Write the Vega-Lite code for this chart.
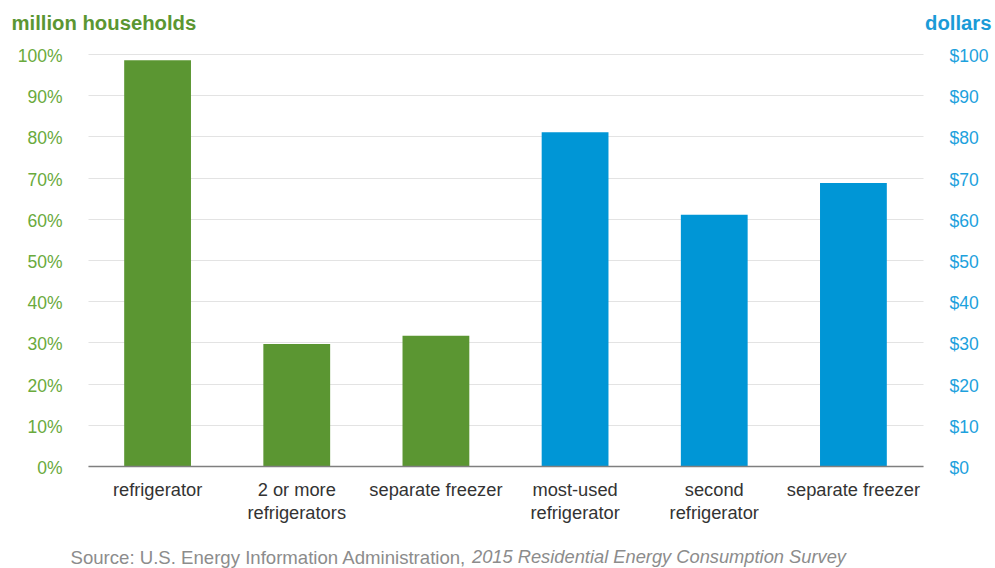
{
  "$schema": "https://vega.github.io/schema/vega-lite/v6.json",
  "width": 835,
  "height": 412,
  "autosize": {"type": "none"},
  "padding": {"left": 88, "top": 54, "right": 72, "bottom": 102},
  "config": {"view": {"stroke": null}, "font": "Liberation Sans"},
  "title": {
    "text": "2015 Residential Energy Consumption Survey",
    "orient": "none",
    "anchor": "start",
    "dx": 384,
    "dy": 509,
    "baseline": "alphabetic",
    "fontStyle": "italic",
    "fontWeight": "normal",
    "fontSize": 18.3,
    "color": "#8c8c8c"
  },
  "data": {
    "values": [
      {"category": "refrigerator", "group": "households", "value": 98.5},
      {"category": "2 or more|refrigerators", "group": "households", "value": 29.6},
      {"category": "separate freezer", "group": "households", "value": 31.6},
      {"category": "most-used|refrigerator", "group": "dollars", "value": 81},
      {"category": "second|refrigerator", "group": "dollars", "value": 61},
      {"category": "separate freezer ", "group": "dollars", "value": 68.7}
    ]
  },
  "encoding": {
    "x": {
      "field": "category",
      "type": "nominal",
      "sort": ["refrigerator", "2 or more|refrigerators", "separate freezer", "most-used|refrigerator", "second|refrigerator", "separate freezer "],
      "scale": {"paddingInner": 0.52, "paddingOuter": 0.26},
      "axis": {
        "labelAngle": 0,
        "labelExpr": "split(datum.label, '|')",
        "labelFontSize": 18.3,
        "labelColor": "#333333",
        "labelLineHeight": 23.5,
        "labelPadding": 15,
        "labelBaseline": "top",
        "ticks": false,
        "domainColor": "#7f7f7f",
        "domainWidth": 1.5,
        "zindex": 1,
        "title": "Source: U.S. Energy Information Administration,",
        "titleX": -18,
        "titleY": 97,
        "titleAlign": "left",
        "titleAnchor": "start",
        "titleBaseline": "alphabetic",
        "titleFontWeight": "normal",
        "titleFontSize": 18.6,
        "titleColor": "#8c8c8c"
      }
    }
  },
  "layer": [
    {
      "transform": [{"filter": "datum.group === 'households'"}],
      "mark": {"type": "bar", "color": "#5b9632"},
      "encoding": {
        "y": {
          "field": "value",
          "type": "quantitative",
          "scale": {"domain": [0, 100]},
          "axis": {
            "orient": "left",
            "values": [0, 10, 20, 30, 40, 50, 60, 70, 80, 90, 100],
            "labelExpr": "datum.value + '%'",
            "labelFontSize": 17.5,
            "labelColor": "#6aaa3c",
            "labelPadding": 26,
            "labelOffset": 2.5,
            "domain": false,
            "ticks": false,
            "grid": true,
            "gridColor": "#e3e3e3",
            "gridWidth": 1,
            "title": "million households",
            "titleAngle": 0,
            "titleX": -77,
            "titleY": -25,
            "titleAlign": "left",
            "titleBaseline": "alphabetic",
            "titleColor": "#5b9632",
            "titleFontSize": 20.3,
            "titleFontWeight": "bold"
          }
        }
      }
    },
    {
      "transform": [{"filter": "datum.group === 'dollars'"}],
      "mark": {"type": "bar", "color": "#0096d6"},
      "encoding": {
        "y": {
          "field": "value",
          "type": "quantitative",
          "scale": {"domain": [0, 100]},
          "axis": {
            "orient": "right",
            "values": [0, 10, 20, 30, 40, 50, 60, 70, 80, 90, 100],
            "labelExpr": "'$' + datum.value",
            "labelFontSize": 17.5,
            "labelColor": "#1da1dd",
            "labelPadding": 26,
            "labelOffset": 2.5,
            "domain": false,
            "ticks": false,
            "grid": false,
            "title": "dollars",
            "titleAngle": 0,
            "titleX": 68,
            "titleY": -25,
            "titleAlign": "right",
            "titleBaseline": "alphabetic",
            "titleColor": "#1a9bd7",
            "titleFontSize": 20.3,
            "titleFontWeight": "bold"
          }
        }
      }
    }
  ],
  "resolve": {"scale": {"y": "independent"}}
}
